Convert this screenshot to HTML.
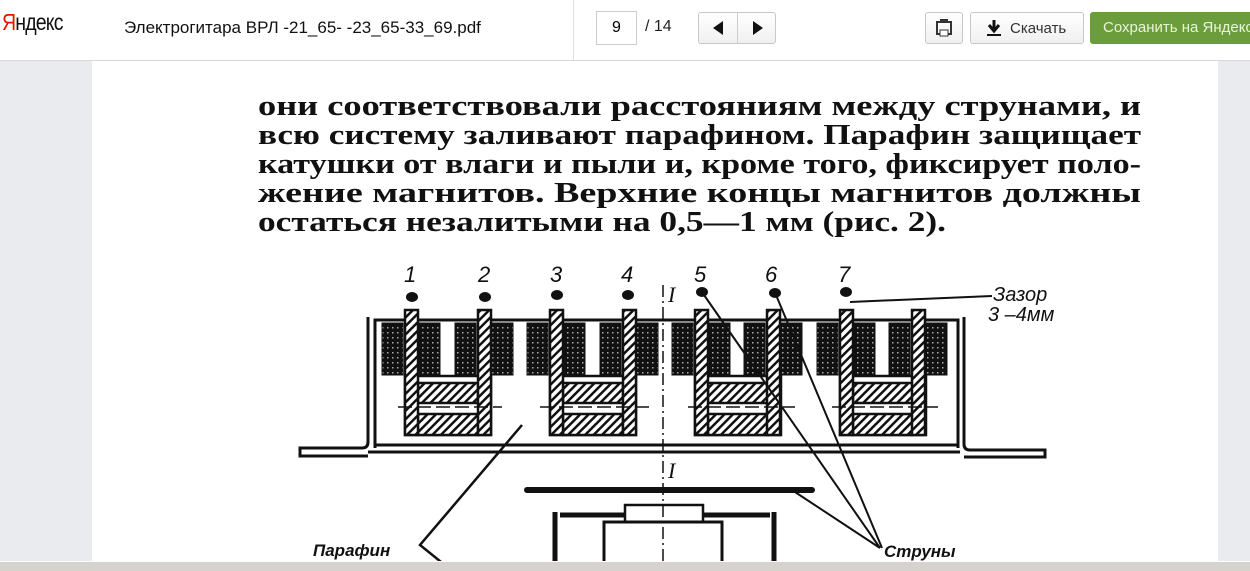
<!DOCTYPE html>
<html><head><meta charset="utf-8"><style>
html,body{margin:0;padding:0;width:1250px;height:570px;overflow:hidden;background:#fff;font-family:"Liberation Sans",sans-serif}
.top{position:absolute;left:0;top:0;width:1250px;height:60px;background:#fff;border-bottom:1px solid #d8d8d8}
.side{position:absolute;top:61px;height:500px;background:#e9ebef}
.btn{position:absolute;top:12px;height:32px;border:1px solid #c8c8c8;border-radius:3px;background:linear-gradient(#fff,#f0f0f0);box-sizing:border-box}
.task{position:absolute;left:0;top:561px;width:1250px;height:9px;background:#d6d3ce;border-top:1px solid #fff}
</style></head><body>
<div class="top">
 <div style="position:absolute;left:2px;top:9px;font-size:23px;color:#111;letter-spacing:-1px;transform:scaleX(0.85);transform-origin:left"><span style="color:#e61400">Я</span>ндекс</div>
 <div style="position:absolute;left:124px;top:18px;font-size:17px;color:#111">Электрогитара ВРЛ -21_65- -23_65-33_69.pdf</div>
 <div style="position:absolute;left:573px;top:0;width:1px;height:60px;background:#e2e2e2"></div>
 <div style="position:absolute;left:596px;top:11px;width:41px;height:34px;border:1px solid #ccc;box-sizing:border-box;font-size:16px;text-align:center;line-height:32px">9</div>
 <div style="position:absolute;left:645px;top:18px;font-size:16px;color:#222">/ 14</div>
 <div class="btn" style="left:698px;width:78px"><div style="position:absolute;left:38px;top:0;width:1px;height:30px;background:#ccc"></div>
  <svg width="78" height="30" style="position:absolute;left:0;top:0"><polygon points="24,8 24,22 14,15" fill="#111"/><polygon points="54,8 54,22 64,15" fill="#111"/></svg></div>
 <div class="btn" style="left:925px;width:38px"><svg width="36" height="30"><rect x="11" y="9" width="14" height="12" fill="none" stroke="#333" stroke-width="2"/><rect x="14" y="6" width="8" height="4" fill="#333"/><rect x="14" y="17" width="8" height="6" fill="#fff" stroke="#333"/></svg></div>
 <div class="btn" style="left:970px;width:114px"><svg width="30" height="30" style="position:absolute;left:10px;top:0"><path d="M13 7v10M8 12l5 6 5-6" stroke="#111" stroke-width="3" fill="none"/><rect x="6" y="21" width="14" height="2" fill="#111"/></svg><span style="position:absolute;left:39px;top:7px;font-size:15px;color:#333">Скачать</span></div>
 <div style="position:absolute;left:1090px;top:12px;width:170px;height:32px;background:#6c9d3d;border-radius:3px;color:#e8f5d8;font-size:15px;line-height:32px;padding-left:13px;box-sizing:border-box;white-space:nowrap">Сохранить на Яндекс</div>
</div>
<div class="side" style="left:0;width:92px"></div>
<div class="side" style="left:1218px;width:32px"></div>
<svg style="position:absolute;left:0;top:0" width="1250" height="570">
<defs>
 <pattern id="h" width="6" height="6" patternUnits="userSpaceOnUse" patternTransform="rotate(45)"><rect width="6" height="6" fill="#fff"/><rect width="2.5" height="6" fill="#111"/></pattern>
 <pattern id="x" width="5" height="5" patternUnits="userSpaceOnUse"><rect width="5" height="5" fill="#111"/><rect x="2" y="2" width="1.5" height="1.5" fill="#aaa"/></pattern>
</defs>
<g font-family="Liberation Serif, serif" font-weight="bold" font-size="29" fill="#111">
 <text x="258" y="115" textLength="883" lengthAdjust="spacingAndGlyphs">они  соответствовали  расстояниям  между  струнами,  и</text>
 <text x="258" y="144" textLength="883" lengthAdjust="spacingAndGlyphs">всю систему заливают парафином. Парафин защищает</text>
 <text x="258" y="173" textLength="883" lengthAdjust="spacingAndGlyphs">катушки от влаги и пыли и, кроме того, фиксирует поло-</text>
 <text x="258" y="202" textLength="883" lengthAdjust="spacingAndGlyphs">жение  магнитов.  Верхние  концы  магнитов  должны</text>
 <text x="258" y="231" textLength="688" lengthAdjust="spacingAndGlyphs">остаться незалитыми на 0,5—1 мм (рис. 2).</text>
</g>
<g font-family="Liberation Sans, sans-serif" font-style="italic" font-size="22" fill="#111">
 <text x="404" y="282">1</text><text x="478" y="282">2</text><text x="550" y="282">3</text><text x="621" y="282">4</text><text x="694" y="282">5</text><text x="765" y="282">6</text><text x="838" y="282">7</text>
 <text x="668" y="302" font-family="Liberation Serif, serif" font-size="22">I</text>
 <text x="668" y="478" font-family="Liberation Serif, serif" font-size="22">I</text>
 <text x="993" y="301" font-size="20">Зазор</text><text x="988" y="321" font-size="20">3 –4мм</text>
 <text x="313" y="556" font-size="17" font-weight="bold">Парафин</text>
 <text x="884" y="557" font-size="17" font-weight="bold">Струны</text>
</g>
<g fill="#111">
 <ellipse cx="412" cy="297" rx="6" ry="5"/><ellipse cx="485" cy="297" rx="6" ry="5"/><ellipse cx="557" cy="295" rx="6" ry="5"/><ellipse cx="628" cy="295" rx="6" ry="5"/><ellipse cx="702" cy="292" rx="6" ry="5"/><ellipse cx="775" cy="293" rx="6" ry="5"/><ellipse cx="846" cy="292" rx="6" ry="5"/>
</g>
<g stroke="#111" fill="none" stroke-width="3">
 <path d="M375 448 V320 H958 V448"/>
 <path d="M368 317 V442 Q368 448 362 448 H300 V456 H368 M368 452 H960"/>
 <path d="M964 317 V444 Q964 450 970 450 H1045 V457 H964"/>
 <path d="M375 445 H958"/>
</g>
<g fill="url(#x)" stroke="#111" stroke-width="1">
 <rect x="382" y="323" width="21" height="52"/><rect x="418" y="323" width="22" height="52"/>
 <rect x="455" y="323" width="21" height="52"/><rect x="491" y="323" width="22" height="52"/>
 <rect x="527" y="323" width="21" height="52"/><rect x="563" y="323" width="22" height="52"/>
 <rect x="600" y="323" width="21" height="52"/><rect x="636" y="323" width="22" height="52"/>
 <rect x="672" y="323" width="21" height="52"/><rect x="708" y="323" width="22" height="52"/>
 <rect x="744" y="323" width="21" height="52"/><rect x="780" y="323" width="22" height="52"/>
 <rect x="817" y="323" width="21" height="52"/><rect x="853" y="323" width="22" height="52"/>
 <rect x="889" y="323" width="21" height="52"/><rect x="925" y="323" width="22" height="52"/>
</g>
<g stroke="#111" stroke-width="2.5" fill="url(#h)">
 <rect x="405" y="376" width="86" height="59" fill="none"/><rect x="550" y="376" width="86" height="59" fill="none"/><rect x="695" y="376" width="86" height="59" fill="none"/><rect x="840" y="376" width="86" height="59" fill="none"/>
 <rect x="418" y="383" width="60" height="20"/><rect x="418" y="414" width="60" height="21"/>
 <rect x="563" y="383" width="60" height="20"/><rect x="563" y="414" width="60" height="21"/>
 <rect x="708" y="383" width="60" height="20"/><rect x="708" y="414" width="60" height="21"/>
 <rect x="853" y="383" width="60" height="20"/><rect x="853" y="414" width="60" height="21"/>
 <rect x="405" y="310" width="13" height="125"/><rect x="478" y="310" width="13" height="125"/>
 <rect x="550" y="310" width="13" height="125"/><rect x="623" y="310" width="13" height="125"/>
 <rect x="695" y="310" width="13" height="125"/><rect x="767" y="310" width="13" height="125"/>
 <rect x="840" y="310" width="13" height="125"/><rect x="912" y="310" width="13" height="125"/>
</g>
<g stroke="#111" stroke-width="1.5" stroke-dasharray="14,5">
 <path d="M398 407 H502 M540 407 H650 M688 407 H795 M832 407 H938"/>
</g>
<path d="M663 285 V565" stroke="#111" stroke-width="1.5" stroke-dasharray="12,4,2,4"/>
<g stroke="#111" fill="none">
 <path d="M527 490 H812" stroke-width="6" stroke-linecap="round"/>
 <path d="M625 522 V505 H703 V522 Z" stroke-width="2.5"/>
 <path d="M555 562 V512 M560 515 H625 M703 515 H770 M774 562 V512" stroke-width="5"/>
 <path d="M604 562 V522 H722 V562" stroke-width="3"/>
 <path d="M850 302 L992 296" stroke-width="2"/>
 <path d="M522 425 L420 545 L446 566" stroke-width="2.5"/>
 <path d="M704 295 L880 548 M776 295 L882 548 M795 492 L880 548" stroke-width="2"/>
</g>
</svg>
<div class="task"></div>
</body></html>
